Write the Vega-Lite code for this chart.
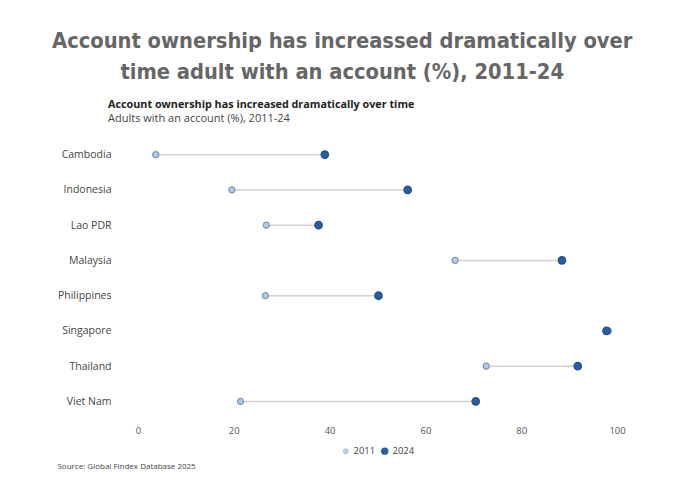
{
  "$schema": "https://vega.github.io/schema/vega-lite/v6.json",
  "background": "white",
  "padding": {"left": 52, "top": 30, "right": 10, "bottom": 5},
  "title": {
    "text": ["Account ownership has increassed dramatically over", "time adult with an account (%), 2011-24"],
    "font": "'Liberation Sans Narrow', 'DejaVu Sans Condensed', sans-serif",
    "fontSize": 21.7,
    "fontWeight": "bold",
    "color": "#666666",
    "anchor": "middle",
    "dx": -7,
    "lineHeight": 31,
    "offset": 16
  },
  "config": {
    "font": "Open Sans",
    "view": {"stroke": null},
    "concat": {"spacing": 0},
    "legend": {"layout": {"bottom": {"anchor": "middle"}}}
  },
  "vconcat": [
    {
      "title": {
        "text": "Source: Global Findex Database 2025",
        "orient": "bottom",
        "anchor": "start",
        "frame": "bounds",
        "fontSize": 8,
        "fontWeight": "normal",
        "color": "#444444",
        "font": "Open Sans",
        "offset": 28
      },
      "vconcat": [
        {
          "width": 527,
          "height": 282,
          "title": {
            "text": "Account ownership has increased dramatically over time",
            "subtitle": "Adults with an account (%), 2011-24",
            "anchor": "start",
            "frame": "group",
            "dx": -6,
            "font": "Open Sans",
            "fontSize": 10.8,
            "fontWeight": "bold",
            "color": "#222222",
            "subtitleFont": "Open Sans",
            "subtitleFontSize": 11,
            "subtitleColor": "#444444",
            "subtitlePadding": 3,
            "offset": 13
          },
          "data": {
            "values": [
              {"country": "Cambodia", "year": "2011", "value": 3.7},
              {"country": "Cambodia", "year": "2024", "value": 39},
              {"country": "Indonesia", "year": "2011", "value": 19.6},
              {"country": "Indonesia", "year": "2024", "value": 56.3},
              {"country": "Lao PDR", "year": "2011", "value": 26.8},
              {"country": "Lao PDR", "year": "2024", "value": 37.7},
              {"country": "Malaysia", "year": "2011", "value": 66.2},
              {"country": "Malaysia", "year": "2024", "value": 88.5},
              {"country": "Philippines", "year": "2011", "value": 26.6},
              {"country": "Philippines", "year": "2024", "value": 50.2},
              {"country": "Singapore", "year": "2011", "value": 98.2},
              {"country": "Singapore", "year": "2024", "value": 97.8},
              {"country": "Thailand", "year": "2011", "value": 72.7},
              {"country": "Thailand", "year": "2024", "value": 91.8},
              {"country": "Viet Nam", "year": "2011", "value": 21.4},
              {"country": "Viet Nam", "year": "2024", "value": 70.5}
            ]
          },
          "encoding": {
            "y": {
              "field": "country",
              "type": "nominal",
              "sort": ["Cambodia", "Indonesia", "Lao PDR", "Malaysia", "Philippines", "Singapore", "Thailand", "Viet Nam"],
              "axis": {
                "title": null,
                "domain": false,
                "ticks": false,
                "labelPadding": 3,
                "labelFontSize": 10.5,
                "labelColor": "#444444",
                "labelFont": "Open Sans"
              }
            },
            "x": {
              "field": "value",
              "type": "quantitative",
              "scale": {"domain": [-5, 105], "nice": false},
              "axis": {
                "title": null,
                "values": [0, 20, 40, 60, 80, 100],
                "domain": false,
                "ticks": false,
                "grid": false,
                "labelPadding": 6,
                "labelFontSize": 9.5,
                "labelColor": "#555555",
                "labelFont": "Open Sans"
              }
            }
          },
          "layer": [
            {
              "mark": {"type": "line", "color": "#d8cfcf", "strokeWidth": 1.5},
              "encoding": {"detail": {"field": "country"}}
            },
            {
              "mark": {"type": "circle", "opacity": 1, "strokeWidth": 1.2},
              "encoding": {
                "size": {"field": "year", "type": "nominal", "scale": {"domain": ["2011", "2024"], "range": [36, 55]}, "legend": null},
                "color": {
                  "field": "year",
                  "type": "nominal",
                  "scale": {"domain": ["2011", "2024"], "range": ["#b3cde8", "#2a5ea3"]},
                  "legend": {
                    "title": null,
                    "orient": "bottom",
                    "direction": "horizontal",
                    "symbolType": "circle",
                    "symbolSize": 28,
                    "symbolStrokeWidth": 0,
                    "labelFontSize": 9.5,
                    "labelColor": "#444444",
                    "labelFont": "Open Sans",
                    "columnPadding": 4,
                    "symbolOffset": 0,
                    "labelOffset": 3,
                    "offset": -25
                  }
                },
                "stroke": {
                  "field": "year",
                  "type": "nominal",
                  "scale": {"domain": ["2011", "2024"], "range": ["#7b95b3", "#1f4f8f"]},
                  "legend": null
                }
              }
            }
          ]
        }
      ]
    }
  ]
}
